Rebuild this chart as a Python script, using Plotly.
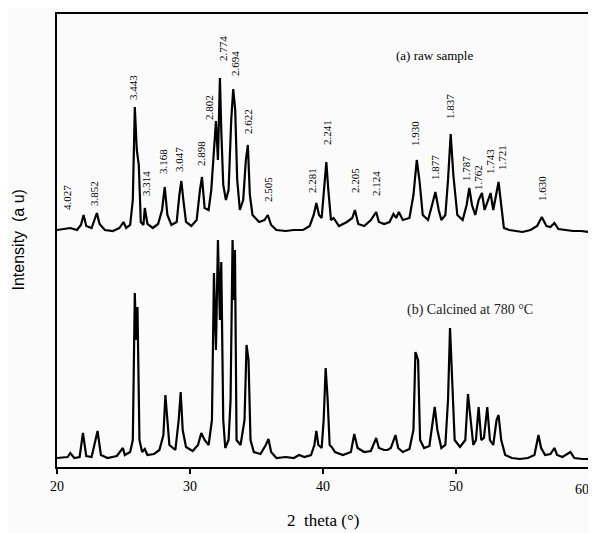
import plotly.graph_objects as go

# ---- data (2 theta in degrees, intensity in arbitrary units) ----
two_theta_b = [20.0, 20.8, 21.0, 21.3, 21.7, 21.95, 22.2, 22.6, 23.05, 23.3, 23.8, 24.5, 24.95, 25.1, 25.5,
               25.7, 25.85, 25.95, 26.05, 26.2, 26.4, 26.6, 26.8, 27.3, 27.7, 28.0, 28.15, 28.3, 28.45, 28.9,
               29.15, 29.3, 29.45, 29.7, 30.2, 30.6, 30.85, 31.1, 31.4, 31.65, 31.8, 31.95, 32.1, 32.25, 32.35,
               32.5, 32.65, 32.9, 33.05, 33.2, 33.3, 33.38, 33.5, 33.8, 34.1, 34.25, 34.4, 34.55, 34.8, 35.3,
               35.7, 35.9, 36.1, 36.5, 37.2, 37.8, 38.2, 38.6, 39.1, 39.35, 39.5, 39.65, 39.9, 40.05, 40.2,
               40.35, 40.5, 40.65, 40.9, 41.5, 42.1, 42.35, 42.6, 43.1, 43.6, 44.0, 44.2, 44.6, 44.85, 45.1,
               45.45, 45.65, 46.0, 46.5, 46.8, 46.95, 47.15, 47.3, 47.6, 48.0, 48.25, 48.4, 48.6, 48.9, 49.2,
               49.4, 49.55, 49.7, 49.9, 50.3, 50.7, 50.9, 51.1, 51.3, 51.5, 51.7, 51.9, 52.1, 52.35, 52.55,
               52.8, 53.05, 53.2, 53.4, 53.7, 54.2, 54.8, 55.4, 55.9, 56.2, 56.4, 56.7, 57.1, 57.4, 57.6,
               58.0, 58.6, 58.9, 59.5, 60.0]
intensity_b = [9, 10, 14, 9, 10, 34, 11, 10, 36, 12, 9, 11, 19, 12, 15,
               27, 174, 127, 160, 27, 15, 18, 12, 13, 17, 32, 72, 47, 22, 17,
               47, 75, 37, 20, 16, 22, 34, 27, 22, 47, 194, 117, 227, 147, 205,
               47, 19, 27, 67, 227, 167, 217, 27, 22, 47, 122, 107, 27, 15, 13,
               22, 28, 15, 9, 10, 9, 12, 10, 12, 22, 36, 22, 19, 47, 99,
               67, 22, 20, 15, 12, 15, 33, 19, 15, 16, 29, 19, 17, 17, 19,
               32, 19, 15, 18, 37, 115, 107, 27, 19, 21, 47, 60, 37, 19, 22,
               67, 139, 97, 27, 20, 27, 73, 47, 22, 27, 60, 27, 29, 60, 27,
               22, 47, 52, 27, 12, 9, 8, 9, 12, 32, 19, 12, 13, 19, 12,
               10, 15, 9, 8, 8]

two_theta_a = [20.0, 20.5, 21.0, 21.5, 21.8, 22.0, 22.2, 22.6, 23.0, 23.2, 23.6, 24.2, 24.7, 25.0, 25.2,
               25.5, 25.7, 25.85, 26.0, 26.15, 26.3, 26.5, 26.6, 26.8, 27.2, 27.6, 27.9, 28.1, 28.3, 28.6,
               29.0, 29.2, 29.35, 29.5, 29.7, 30.1, 30.5, 30.75, 30.9, 31.1, 31.4, 31.6, 31.8, 31.95, 32.1,
               32.25, 32.35, 32.5, 32.7, 32.9, 33.1, 33.25, 33.4, 33.55, 33.75, 34.0, 34.2, 34.35, 34.5, 34.7,
               35.2, 35.6, 35.85, 36.1, 36.5, 37.2, 37.8, 38.5, 39.0, 39.3, 39.5, 39.7, 39.9, 40.1, 40.25,
               40.4, 40.6, 40.8, 41.2, 41.8, 42.2, 42.4, 42.65, 43.1, 43.6, 44.0, 44.2, 44.6, 45.0, 45.3,
               45.5, 45.7, 46.0, 46.5, 46.8, 47.05, 47.25, 47.5, 47.9, 48.2, 48.45, 48.7, 48.9, 49.2, 49.4,
               49.6, 49.8, 50.1, 50.5, 50.8, 51.0, 51.2, 51.45, 51.7, 51.95, 52.15, 52.4, 52.6, 52.8, 53.0,
               53.2, 53.4, 53.6, 54.0, 54.5, 55.0, 55.6, 56.1, 56.45, 56.8, 57.1, 57.4, 57.7, 58.2, 58.8,
               59.4, 60.0]
intensity_a = [8, 9, 10, 8, 13, 23, 12, 10, 25, 14, 8, 7, 10, 16, 10,
               13, 38, 131, 88, 73, 16, 13, 30, 14, 10, 14, 28, 51, 23, 13,
               16, 43, 57, 38, 16, 12, 18, 48, 61, 30, 28, 48, 88, 117, 78,
               160, 108, 53, 38, 48, 118, 149, 128, 58, 28, 38, 78, 93, 43, 23,
               16, 18, 23, 13, 8, 7, 8, 8, 12, 23, 35, 23, 20, 48, 76,
               48, 18, 20, 12, 16, 20, 28, 14, 12, 18, 26, 16, 14, 16, 24,
               20, 26, 18, 20, 43, 78, 58, 23, 18, 33, 46, 28, 18, 23, 58,
               104, 63, 23, 18, 33, 50, 33, 23, 38, 45, 28, 38, 45, 28, 43,
               56, 33, 10, 8, 7, 6, 8, 12, 21, 12, 11, 15, 9, 8, 7,
               7, 6]

# d-spacing labels of the raw sample peaks
d_labels = ["4.027", "3.852", "3.443", "3.314", "3.168", "3.047", "2.898", "2.802", "2.774", "2.694",
            "2.622", "2.505", "2.281", "2.241", "2.205", "2.124", "1.930", "1.877", "1.837", "1.787",
            "1.762", "1.743", "1.721", "1.630"]
d_label_theta = [20.75, 22.78, 25.71, 26.69, 27.97, 29.17, 30.83, 31.43, 32.48, 33.38,
                 34.36, 35.86, 39.17, 40.30, 42.41, 43.98, 46.92, 48.42, 49.55, 50.75,
                 51.65, 52.56, 53.46, 56.47]
d_label_level = [270, 274, 380, 284, 305, 308, 313, 359, 419, 404,
                 346, 278, 287, 335, 286, 284, 333, 300, 360, 299,
                 290, 305, 309, 278]

x_ticks = [20, 30, 40, 50, 60]

OFFSET_A = 229  # vertical stacking of the raw-sample pattern

fig = go.Figure()
fig.add_trace(go.Scatter(x=two_theta_b, y=intensity_b, mode="lines",
                         line=dict(color="black", width=2.2), showlegend=False))
fig.add_trace(go.Scatter(x=two_theta_a, y=[v + OFFSET_A for v in intensity_a], mode="lines",
                         line=dict(color="black", width=2.2), showlegend=False))

serif = "Liberation Serif, Times New Roman, serif"
for lab, xt, yl in zip(d_labels, d_label_theta, d_label_level):
    fig.add_annotation(x=xt, y=yl, text=lab, textangle=-90, showarrow=False,
                       font=dict(family=serif, size=11, color="black"))

fig.add_annotation(x=48.35, y=412, text="(a) raw sample", showarrow=False,
                   font=dict(family=serif, size=13, color="black"))
fig.add_annotation(x=51.05, y=157, text="(b) Calcined at 780 °C", showarrow=False,
                   font=dict(family=serif, size=14, color="#222"))

# tick label "60" sits slightly inside the page edge in the reference
fig.add_annotation(x=60, y=0, yref="y", text="60", showarrow=False, xanchor="right",
                   yanchor="top", yshift=-13, xshift=2,
                   font=dict(family=serif, size=14, color="black"))

# axis titles
fig.add_annotation(xref="paper", yref="paper", x=0.5, y=-0.119, text="2  theta (°)",
                   xanchor="center", yanchor="middle",
                   showarrow=False, font=dict(family=serif, size=17, color="black"))
fig.add_annotation(xref="paper", yref="paper", x=-0.0733, y=0.50, text="Intensity  (a u)",
                   xanchor="center", yanchor="middle",
                   textangle=-90, showarrow=False,
                   font=dict(family="Liberation Sans, Arial, sans-serif", size=16, color="black"))

# the page body adds an 8 px margin, so the figure is sized/offset to compensate
fig.update_layout(
    width=588, height=525,
    margin=dict(l=49, r=7, t=6, b=66),
    paper_bgcolor="#fbfbfb", plot_bgcolor="#fbfbfb",
    xaxis=dict(range=[20, 60], tickvals=x_ticks, ticktext=["20", "30", "40", "50", ""],
               automargin=False,
               showgrid=False, zeroline=False, showline=True, mirror=True,
               linecolor="black", linewidth=2, ticks="outside", ticklen=5, tickwidth=1.5,
               tickcolor="black", tickfont=dict(family=serif, size=14, color="black")),
    yaxis=dict(range=[0, 453], showticklabels=False, showgrid=False, zeroline=False,
               automargin=False,
               showline=True, mirror=True, linecolor="black", linewidth=2, ticks=""),
)

fig.write_html("out.html")
